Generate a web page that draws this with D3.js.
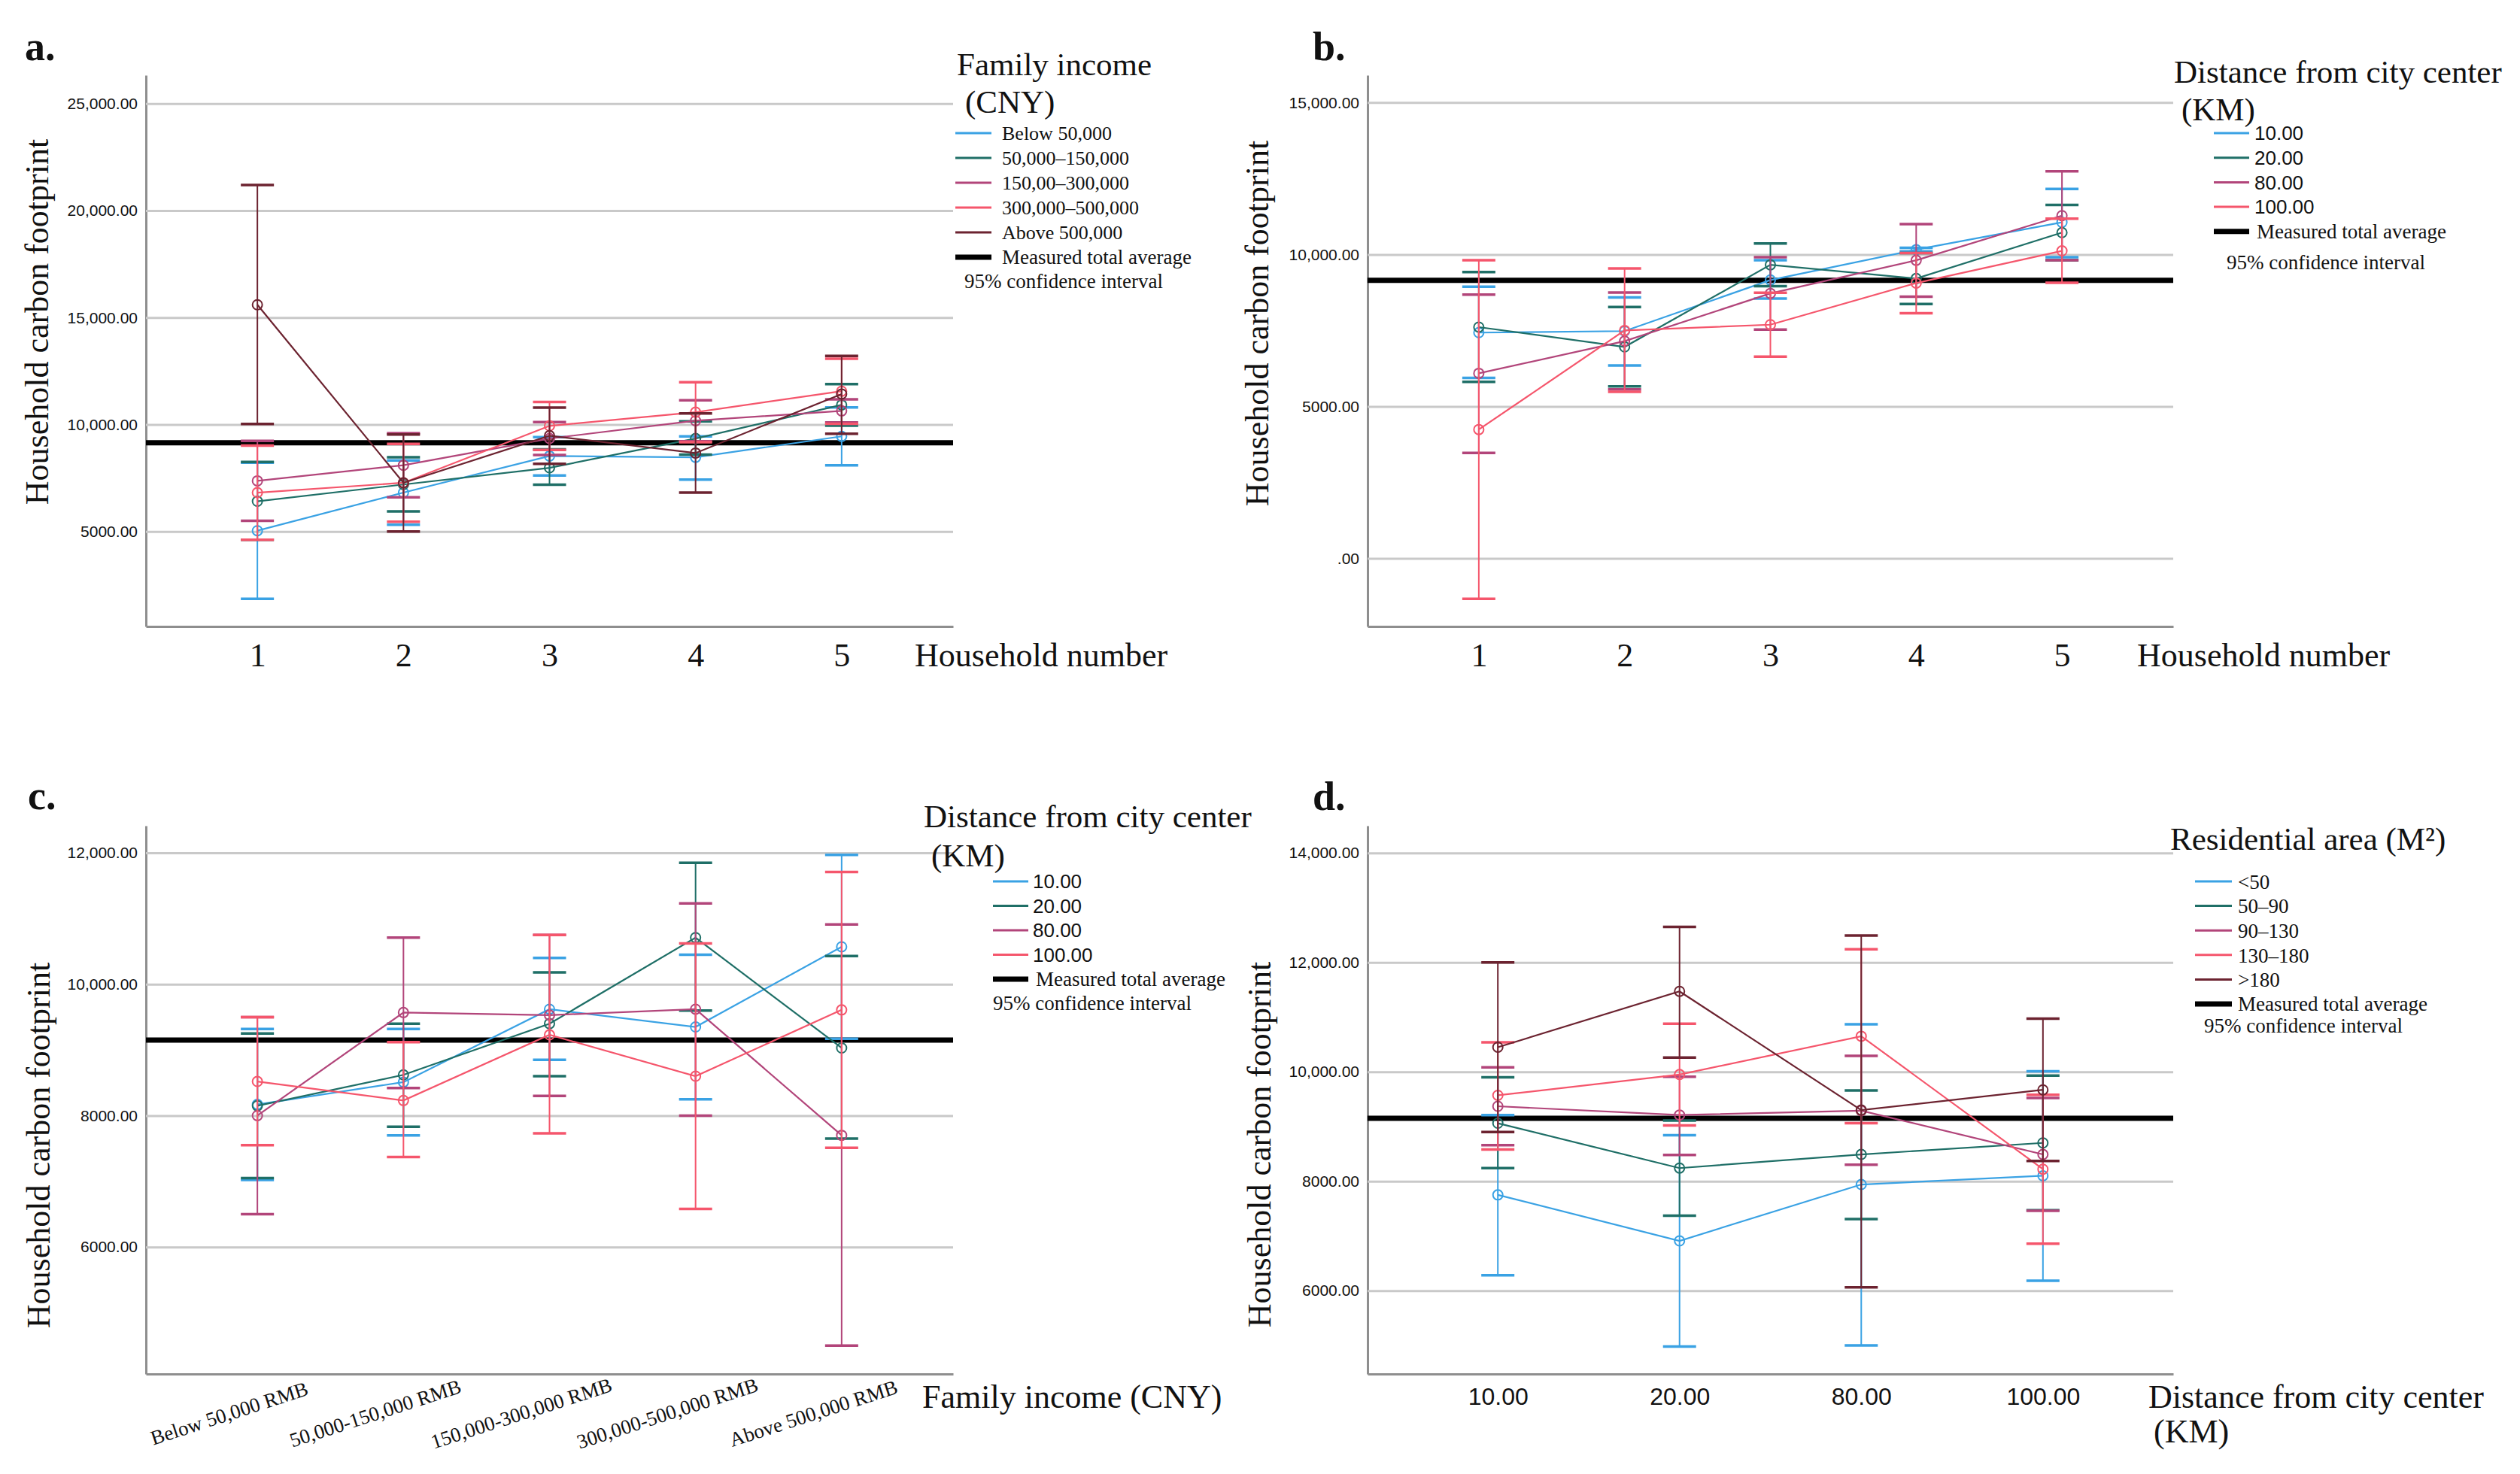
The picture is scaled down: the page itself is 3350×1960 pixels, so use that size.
<!DOCTYPE html>
<html>
<head>
<meta charset="utf-8">
<script src="https://cdn.jsdelivr.net/npm/d3@7"></script>
<style>
	body { margin: 0; background: #fff; }
	svg text { fill: #111; }
</style>
</head>
<body>
<svg id="chart" width="3350" height="1960"></svg>
<script>
const SERIF = '"Liberation Serif", "Times New Roman", serif',
	  SANS = '"Liberation Sans", Arial, sans-serif';

// categories
const householdNumbers = ["1", "2", "3", "4", "5"];
const incomeGroups = ["Below 50,000", "50,000–150,000", "150,00–300,000", "300,000–500,000", "Above 500,000"];
const incomeTicks = ["Below 50,000 RMB", "50,000-150,000 RMB", "150,000-300,000 RMB", "300,000-500,000 RMB", "Above 500,000 RMB"];
const distances = ["10.00", "20.00", "80.00", "100.00"];
const areaGroups = ["<50", "50–90", "90–130", "130–180", ">180"];

const totalAverage = 9150;

// tick values
const aTicks = [5000, 10000, 15000, 20000, 25000];
const bTicks = [0, 5000, 10000, 15000];
const cTicks = [6000, 8000, 10000, 12000];
const dTicks = [6000, 8000, 10000, 12000, 14000];

// a. income groups by household number
const aMean = [
	[5040, 6820, 8530, 8470, 9450],
	[6415, 7200, 7980, 9350, 10920],
	[7370, 8100, 9350, 10180, 10640],
	[6820, 7280, 9940, 10580, 11560],
	[15600, 7280, 9480, 8670, 11430]
];
const aLow = [
	[1860, 5320, 7620, 7430, 8100],
	[4615, 5940, 7190, 8600, 9950],
	[5500, 6600, 8580, 9220, 10100],
	[4620, 5460, 8820, 9180, 10040],
	[10030, 5000, 8170, 6820, 9570]
];
const aHigh = [
	[8220, 8320, 9410, 9450, 10800],
	[8250, 8470, 8840, 10150, 11890],
	[9240, 9600, 10120, 11140, 11180],
	[9020, 9100, 11060, 11980, 13080],
	[21200, 9540, 10790, 10520, 13210]
];

// b. distance by household number
const bMean = [
	[7430, 7480, 9160, 10160, 11060],
	[7610, 6960, 9660, 9210, 10720],
	[6090, 7150, 8720, 9810, 11280],
	[4240, 7500, 7690, 9060, 10120]
];
const bLow = [
	[5940, 6350, 8550, 10100, 9910],
	[5810, 5660, 8960, 8370, 9810],
	[3470, 5560, 7530, 8610, 9810],
	[-1330, 5480, 6640, 8070, 9070]
];
const bHigh = [
	[8940, 8590, 9810, 10220, 12160],
	[9420, 8270, 10360, 10050, 11630],
	[8680, 8750, 9910, 11000, 12740],
	[9810, 9540, 8740, 10050, 11180]
];

// c. distance by family income
const cMean = [
	[8170, 8510, 9620, 9350, 10570],
	[8150, 8620, 9400, 10710, 9030],
	[8000, 9570, 9530, 9620, 7700],
	[8520, 8230, 9230, 8600, 9610]
];
const cLow = [
	[7020, 7700, 8850, 8250, 9170],
	[7050, 7830, 8600, 9600, 7650],
	[6500, 8420, 8300, 8000, 4500],
	[7550, 7370, 7730, 6580, 7510]
];
const cHigh = [
	[9320, 9320, 10400, 10450, 11970],
	[9250, 9400, 10180, 11850, 10430],
	[9500, 10710, 10750, 11230, 10910],
	[9500, 9120, 10750, 10620, 11710]
];

// d. residential area by distance
const dMean = [
	[7750, 6910, 7940, 8100],
	[9060, 8240, 8490, 8700],
	[9370, 9210, 9290, 8490],
	[9570, 9950, 10650, 8220],
	[10450, 11470, 9300, 9670]
];
const dLow = [
	[6280, 4980, 5000, 6180],
	[8240, 7370, 7310, 7470],
	[8660, 8480, 8300, 7460],
	[8580, 9020, 9060, 6860],
	[8900, 10260, 6060, 8370]
];
const dHigh = [
	[9210, 8840, 10870, 10010],
	[9900, 9110, 9660, 9930],
	[10080, 9910, 10290, 9520],
	[10540, 10880, 12240, 9580],
	[12000, 12650, 12490, 10970]
];

const colors5 = ["#3aa2e4", "#1f6f67", "#b2457a", "#f5566c", "#6c2330"];
const colors4 = ["#3aa2e4", "#1f6f67", "#b2457a", "#f5566c"];

const svg = d3.select("#chart");

// spss style number labels
function fmt(v) {
	if (v === 0) {
		return ".00";
	}
	return v >= 10000 ? d3.format(",.2f")(v) : d3.format(".2f")(v);
}

function drawPanel(p) {
	let g = svg.append("g");

	let x = d3.scalePoint()
			.domain(p.cats)
			.range([p.left, p.right])
			.padding(p.pad);
	let y = d3.scaleLinear()
			.domain(p.domain)
			.range([p.bottom, p.top]);

	// y axis with gridlines
	let yAxis = g.append("g")
			.attr("transform", "translate(" + p.left + ",0)")
			.call(d3.axisLeft(y)
				.tickValues(p.ticks)
				.tickFormat(fmt)
				.tickSize(-(p.right - p.left))
				.tickSizeOuter(0)
				.tickPadding(11));
	yAxis.selectAll(".tick line")
			.attr("stroke", "#c9c9c9")
			.attr("stroke-width", 3);
	yAxis.selectAll(".tick text")
			.attr("font-family", SANS)
			.attr("font-size", 21)
			.attr("fill", "#222");
	yAxis.select(".domain")
			.attr("stroke", "#8e8e8e")
			.attr("stroke-width", 3);

	// x axis
	let xAxis = g.append("g")
			.attr("transform", "translate(0," + p.bottom + ")")
			.call(d3.axisBottom(x)
				.tickSize(0)
				.tickSizeOuter(0)
				.tickPadding(p.xPad)
				.tickFormat((d, i) => p.tickLabels ? p.tickLabels[i] : d));
	xAxis.select(".domain")
			.attr("stroke", "#8e8e8e")
			.attr("stroke-width", 3);
	xAxis.selectAll(".tick text")
			.attr("font-family", p.xFont)
			.attr("font-size", p.xSize)
			.attr("fill", "#111");

	if (p.rotate) {
		xAxis.selectAll(".tick text")
				.attr("y", null)
				.attr("dy", "0.35em")
				.attr("text-anchor", "middle")
				.attr("transform", "translate(-38,52) rotate(-18)");
	}

	// measured total average
	g.append("line")
			.attr("x1", p.left)
			.attr("x2", p.right)
			.attr("y1", y(totalAverage))
			.attr("y2", y(totalAverage))
			.attr("stroke", "#000")
			.attr("stroke-width", 7);

	let line = d3.line()
			.x(d => x(d.c))
			.y(d => y(d.m));

	p.mean.forEach((row, i) => {
		let color = p.colors[i];
		let pts = p.cats.map((c, j) => ({c: c, m: row[j], lo: p.low[i][j], hi: p.high[i][j]}));
		let sg = g.append("g");

		// error bars
		sg.selectAll(".bar").data(pts).join("line")
				.attr("x1", d => x(d.c))
				.attr("x2", d => x(d.c))
				.attr("y1", d => y(d.lo))
				.attr("y2", d => y(d.hi))
				.attr("stroke", color)
				.attr("stroke-width", 2);

		["lo", "hi"].forEach(k => {
			sg.selectAll(".cap-" + k).data(pts).join("line")
					.attr("x1", d => x(d.c) - 22)
					.attr("x2", d => x(d.c) + 22)
					.attr("y1", d => y(d[k]))
					.attr("y2", d => y(d[k]))
					.attr("stroke", color)
					.attr("stroke-width", 3.5);
		});

		// mean line
		sg.append("path")
				.datum(pts)
				.attr("d", line)
				.attr("fill", "none")
				.attr("stroke", color)
				.attr("stroke-width", 2.2);

		sg.selectAll("circle").data(pts).join("circle")
				.attr("cx", d => x(d.c))
				.attr("cy", d => y(d.m))
				.attr("r", 6.5)
				.attr("fill", "none")
				.attr("stroke", color)
				.attr("stroke-width", 2);
	});

	// panel letter
	svg.append("text")
			.attr("x", p.letterX)
			.attr("y", p.letterY)
			.attr("font-family", SERIF)
			.attr("font-weight", "bold")
			.attr("font-size", 54)
			.text(p.letter);

	// y title
	svg.append("text")
			.attr("transform", "translate(" + p.yTitleX + "," + p.yTitleY + ") rotate(-90)")
			.attr("text-anchor", "middle")
			.attr("font-family", SERIF)
			.attr("font-size", 44)
			.text("Household carbon footprint");

	// x title
	p.xTitle.forEach(t => {
		svg.append("text")
				.attr("x", t[1])
				.attr("y", t[2])
				.attr("font-family", SERIF)
				.attr("font-size", 44)
				.text(t[0]);
	});

	// legend
	let L = p.legend;
	L.title.forEach(t => {
		svg.append("text")
				.attr("x", t[1])
				.attr("y", t[2])
				.attr("font-family", SERIF)
				.attr("font-size", 43)
				.text(t[0]);
	});

	p.groups.forEach((name, i) => {
		let ly = L.y0 + i * L.step;
		svg.append("line")
				.attr("x1", L.x1)
				.attr("x2", L.x2)
				.attr("y1", ly)
				.attr("y2", ly)
				.attr("stroke", p.colors[i])
				.attr("stroke-width", 3);
		svg.append("text")
				.attr("x", L.tx)
				.attr("y", ly)
				.attr("dy", "0.36em")
				.attr("font-family", L.font)
				.attr("font-size", L.size)
				.text(name);
	});

	let my = L.y0 + p.groups.length * L.step;
	svg.append("line")
			.attr("x1", L.x1)
			.attr("x2", L.x2)
			.attr("y1", my)
			.attr("y2", my)
			.attr("stroke", "#000")
			.attr("stroke-width", 7);
	svg.append("text")
			.attr("x", L.mx)
			.attr("y", my)
			.attr("dy", "0.33em")
			.attr("font-family", SERIF)
			.attr("font-size", 27)
			.text("Measured total average");
	svg.append("text")
			.attr("x", L.cx)
			.attr("y", L.cy)
			.attr("font-family", SERIF)
			.attr("font-size", 27)
			.text("95% confidence interval");
}

drawPanel({
	letter: "a.", letterX: 33, letterY: 80,
	left: 194, right: 1267, top: 100, bottom: 833,
	cats: householdNumbers, pad: 0.763,
	domain: [565, 26330], ticks: aTicks,
	xPad: 22, xFont: SERIF, xSize: 44,
	mean: aMean, low: aLow, high: aHigh,
	colors: colors5, groups: incomeGroups,
	yTitleX: 64, yTitleY: 428,
	xTitle: [["Household number", 1216, 886]],
	legend: {
		title: [["Family income", 1272, 100], ["(CNY)", 1283, 150]],
		x1: 1270, x2: 1318, tx: 1332, y0: 177, step: 33,
		font: SERIF, size: 26, mx: 1332, cx: 1282, cy: 383
	}
});

drawPanel({
	letter: "b.", letterX: 1745, letterY: 80,
	left: 1818, right: 2889, top: 100, bottom: 833,
	cats: householdNumbers, pad: 0.763,
	domain: [-2240, 15900], ticks: bTicks,
	xPad: 22, xFont: SERIF, xSize: 44,
	mean: bMean, low: bLow, high: bHigh,
	colors: colors4, groups: distances,
	yTitleX: 1686, yTitleY: 430,
	xTitle: [["Household number", 2841, 886]],
	legend: {
		title: [["Distance from city center", 2890, 110], ["(KM)", 2900, 160]],
		x1: 2943, x2: 2990, tx: 2997, y0: 177, step: 32.7,
		font: SANS, size: 26, mx: 3000, cx: 2960, cy: 358
	}
});

drawPanel({
	letter: "c.", letterX: 37, letterY: 1076,
	left: 194, right: 1267, top: 1098, bottom: 1827,
	cats: incomeGroups, tickLabels: incomeTicks, pad: 0.763, rotate: true,
	domain: [4067, 12413], ticks: cTicks,
	xPad: 22, xFont: SERIF, xSize: 27,
	mean: cMean, low: cLow, high: cHigh,
	colors: colors4, groups: distances,
	yTitleX: 66, yTitleY: 1523,
	xTitle: [["Family income (CNY)", 1226, 1872]],
	legend: {
		title: [["Distance from city center", 1228, 1100], ["(KM)", 1238, 1152]],
		x1: 1320, x2: 1367, tx: 1373, y0: 1172, step: 32.5,
		font: SANS, size: 26, mx: 1377, cx: 1320, cy: 1343
	}
});

drawPanel({
	letter: "d.", letterX: 1745, letterY: 1077,
	left: 1818, right: 2889, top: 1098, bottom: 1827,
	cats: distances, pad: 0.717,
	domain: [4477, 14497], ticks: dTicks,
	xPad: 18, xFont: SANS, xSize: 32,
	mean: dMean, low: dLow, high: dHigh,
	colors: colors5, groups: areaGroups,
	yTitleX: 1689, yTitleY: 1522,
	xTitle: [["Distance from city center", 2856, 1872], ["(KM)", 2863, 1918]],
	legend: {
		title: [["Residential area (M²)", 2885, 1130]],
		x1: 2918, x2: 2967, tx: 2975, y0: 1172, step: 32.6,
		font: SERIF, size: 27, mx: 2975, cx: 2930, cy: 1373
	}
});
</script>
</body>
</html>
